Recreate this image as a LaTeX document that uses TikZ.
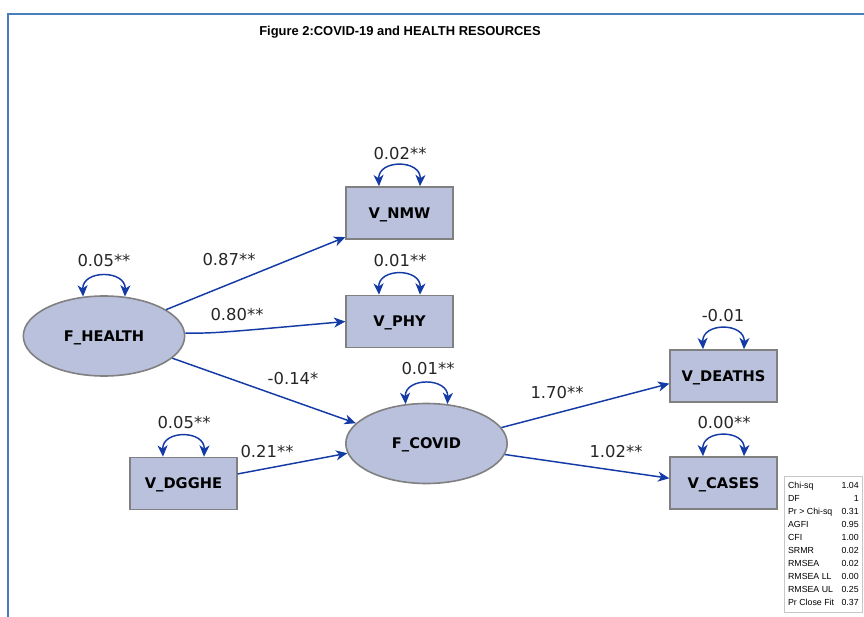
\documentclass[tikz,border=0pt]{standalone}
\usepackage{fontspec}
\setmainfont{DejaVu Sans}
\newfontfamily\arialfont{Liberation Sans}
\usetikzlibrary{arrows.meta,calc,shapes.geometric}
\definecolor{nodefill}{RGB}{185,193,221}
\definecolor{nodeline}{RGB}{128,128,128}
\definecolor{pathblue}{RGB}{20,58,165}
\definecolor{frameblue}{RGB}{74,126,187}
\tikzset{%
  obsvar/.style={draw=nodeline,fill=nodefill,line width=1.2pt,align=center,minimum width=80pt,minimum height=39pt,inner sep=0pt,text height=8pt,text depth=0pt,font=\bfseries\fontsize{11}{13}\selectfont},
  latvar/.style={ellipse,draw=nodeline,fill=nodefill,line width=1.2pt,align=center,minimum width=121pt,minimum height=60pt,inner sep=0pt,text height=8pt,text depth=0pt,font=\bfseries\fontsize{11}{13}\selectfont},
  effect/.style={-{Stealth[length=8.5pt,width=7.5pt,inset=2.5pt]}, draw=pathblue, line width=1.1pt},
  varloop/.style={{Stealth[length=8.5pt,width=7.5pt,inset=2.5pt]}-{Stealth[length=8.5pt,width=7.5pt,inset=2.5pt]}, draw=pathblue, line width=1.1pt}%
}

\begin{document}
\begin{tikzpicture}[
    x=0.75pt, y=-0.75pt,
    coef/.style={
        font=\fontsize{12.3}{14}\selectfont,
        text=black!85,
        inner sep=0pt
    },
    title/.style={
        font=\arialfont\bfseries\fontsize{9.7}{12}\selectfont,
        inner sep=0pt
    },
    fitbox/.style={
        draw=black!22,
        line width=0.5pt,
        fill=white,
        inner xsep=2.8pt,
        inner ysep=2pt,
        font=\arialfont\fontsize{6.6}{9.8}\selectfont
    },
    framebox/.style={draw=frameblue, line width=1.6pt}
]
\useasboundingbox (0,0) rectangle (864,617);

% Frame and title
\draw[framebox] (8,617) -- (8,14) -- (864,14);
\node[title] (title) at (400,32) {Figure 2:COVID-19 and HEALTH RESOURCES};

% Latent variables
\node[latvar] (fhealth) at (104,336) {F\_HEALTH};
\node[latvar] (fcovid) at (426.5,443.5) {F\_COVID};

% Observed variables
\node[obsvar] (vnmw) at (399.5,213) {V\_NMW};
\node[obsvar] (vphy) at (399.5,321.5) {V\_PHY};
\node[obsvar] (vdgghe) at (183.5,483.5) {V\_DGGHE};
\node[obsvar] (vdeaths) at (723.5,376) {V\_DEATHS};
\node[obsvar] (vcases) at (723.5,483) {V\_CASES};

% Paths
\draw[effect] (fhealth.23) -- (vnmw.204);
\draw[effect] (fhealth.2) .. controls +(30,0) .. (vphy.west);
\draw[effect] (fhealth.-18) -- (fcovid.164);
\draw[effect] (vdgghe.10) -- (fcovid.187);
\draw[effect] (fcovid.12) -- (vdeaths.188);
\draw[effect] (fcovid.-8) -- (vcases.175);

% Path coefficients
\node[coef] (c-nmw) at (229,260) {0.87**};
\node[coef] (c-phy) at (237,315) {0.80**};
\node[coef] (c-covid) at (293,379) {-0.14*};
\node[coef] (c-dgghe) at (267,452) {0.21**};
\node[coef] (c-deaths) at (557,393) {1.70**};
\node[coef] (c-cases) at (616,452) {1.02**};

% Variances
\draw[varloop] (fhealth.118) .. controls +(-1,-27) and +(1,-27) .. (fhealth.62);
\draw[varloop] (fcovid.118) .. controls +(-1,-27) and +(1,-27) .. (fcovid.62);
\draw[varloop] ($(vnmw.north)+(-20.5,0)$) .. controls +(-1,-27) and +(1,-27) .. ($(vnmw.north)+(20.5,0)$);
\draw[varloop] ($(vphy.north)+(-20.5,0)$) .. controls +(-1,-27) and +(1,-27) .. ($(vphy.north)+(20.5,0)$);
\draw[varloop] ($(vdgghe.north)+(-20.5,0)$) .. controls +(-1,-27) and +(1,-27) .. ($(vdgghe.north)+(20.5,0)$);
\draw[varloop] ($(vdeaths.north)+(-20.5,0)$) .. controls +(-1,-27) and +(1,-27) .. ($(vdeaths.north)+(20.5,0)$);
\draw[varloop] ($(vcases.north)+(-20.5,0)$) .. controls +(-1,-27) and +(1,-27) .. ($(vcases.north)+(20.5,0)$);

\node[coef] (v-fhealth) at (104,261) {0.05**};
\node[coef] (v-fcovid) at (428,369) {0.01**};
\node[coef] (v-nmw) at (400,154) {0.02**};
\node[coef] (v-phy) at (400,261) {0.01**};
\node[coef] (v-dgghe) at (184,423) {0.05**};
\node[coef] (v-deaths) at (723,316) {-0.01};
\node[coef] (v-cases) at (724,423) {0.00**};

% Fit statistics
\node[fitbox, anchor=north west] (fitstats) at (784,476) {%
  \begin{tabular*}{53pt}{@{}l@{\extracolsep{\fill}}r@{}}
    Chi-sq & 1.04\\
    DF & 1\\
    Pr > Chi-sq & 0.31\\
    AGFI & 0.95\\
    CFI & 1.00\\
    SRMR & 0.02\\
    RMSEA & 0.02\\
    RMSEA LL & 0.00\\
    RMSEA UL & 0.25\\
    Pr Close Fit & 0.37
  \end{tabular*}};

\end{tikzpicture}
\end{document}
